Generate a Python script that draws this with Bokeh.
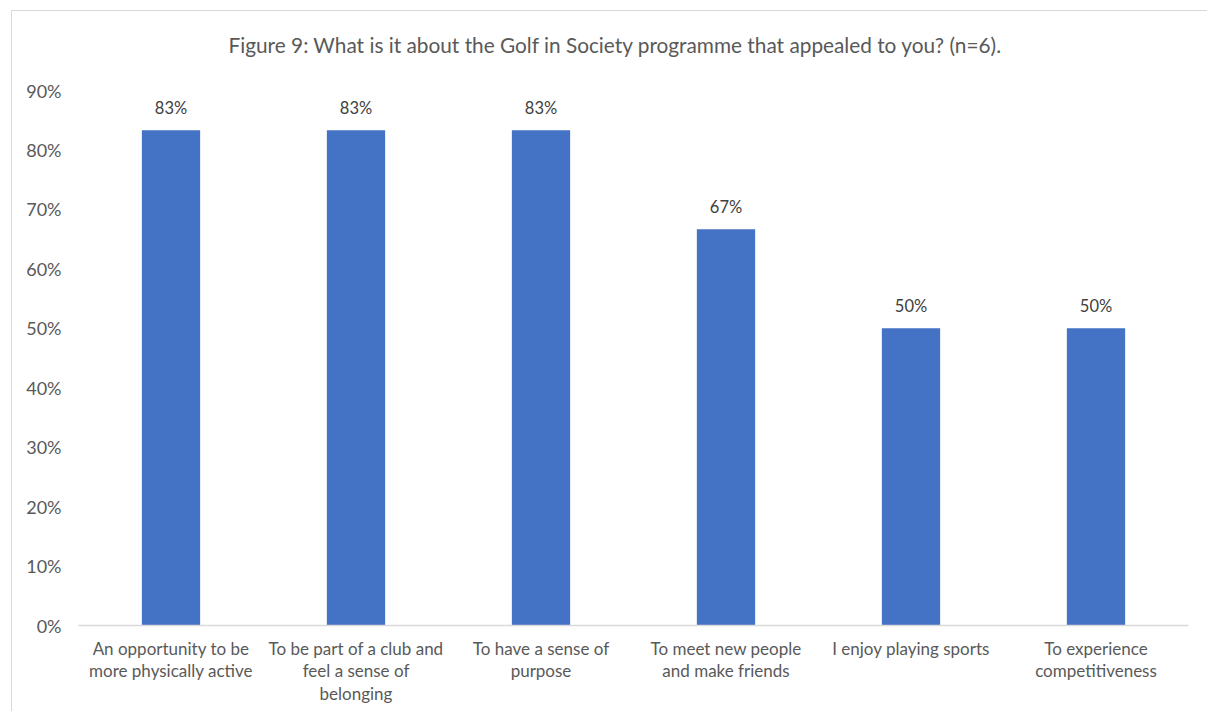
from bokeh.plotting import figure
from bokeh.models import ColumnDataSource, FixedTicker, NumeralTickFormatter, Range1d, Title
from bokeh.core.properties import value
from bokeh.embed import file_html
from bokeh.resources import INLINE

title_text = "Figure 9: What is it about the Golf in Society programme that appealed to you? (n=6)."
categories = [
    "An opportunity to be\nmore physically active",
    "To be part of a club and\nfeel a sense of\nbelonging",
    "To have a sense of\npurpose",
    "To meet new people\nand make friends",
    "I enjoy playing sports",
    "To experience\ncompetitiveness",
]
values = [0.8333, 0.8333, 0.8333, 0.6667, 0.50, 0.50]
labels = ["83%", "83%", "83%", "67%", "50%", "50%"]
y_ticks = [0.0, 0.1, 0.2, 0.3, 0.4, 0.5, 0.6, 0.7, 0.8, 0.9]

FONT = "Lato"
GREY = "#595959"

src = ColumnDataSource(dict(cat=categories, val=values, lab=labels))

p = figure(x_range=categories, y_range=Range1d(0, 0.9), width=1196, height=701,
           output_backend="svg", toolbar_location=None,
           min_border_left=66, min_border_right=20, min_border_top=79, min_border_bottom=87)

p.vbar(x="cat", top="val", width=0.315, source=src, color="#4472C4", line_color=None)
p.text(x="cat", y="val", text="lab", source=src, y_offset=-12,
       text_align="center", text_baseline="bottom", text_font=value(FONT),
       text_font_size="16.5px", text_color="#404040")

# spacer between title and plot area
p.add_layout(Title(text=" ", text_font_size="1px", standoff=27), "above")
p.add_layout(Title(text=title_text, text_font=FONT, text_font_size="20.8px",
                   text_font_style="normal", text_color=GREY, align="left",
                   offset=150, standoff=8), "above")

p.outline_line_color = None
p.xgrid.grid_line_color = None
p.ygrid.grid_line_color = None

p.yaxis.ticker = FixedTicker(ticks=y_ticks)
p.yaxis.formatter = NumeralTickFormatter(format="0%")
p.yaxis.axis_line_color = None
p.yaxis.major_tick_line_color = None
p.yaxis.minor_tick_line_color = None
p.yaxis.major_label_standoff = 11
p.yaxis.major_label_text_font = FONT
p.yaxis.major_label_text_font_size = "18px"
p.yaxis.major_label_text_color = GREY

p.xaxis.axis_line_color = "#d9d9d9"
p.xaxis.axis_line_width = 1.5
p.xaxis.major_tick_line_color = None
p.xaxis.minor_tick_line_color = None
p.xaxis.major_label_standoff = 6
p.xaxis.major_label_text_font = FONT
p.xaxis.major_label_text_font_size = "17px"
p.xaxis.major_label_text_line_height = 1.08
p.xaxis.major_label_text_color = GREY
p.x_range.range_padding = 0

p.margin = (10, 0, 0, 11)
p.styles = {"border-left": "1.5px solid #d9d9d9", "border-top": "1.5px solid #d9d9d9",
            "border-right": "0px none transparent", "border-bottom": "0px none transparent"}

open("out.html", "w").write(file_html(p, INLINE))
